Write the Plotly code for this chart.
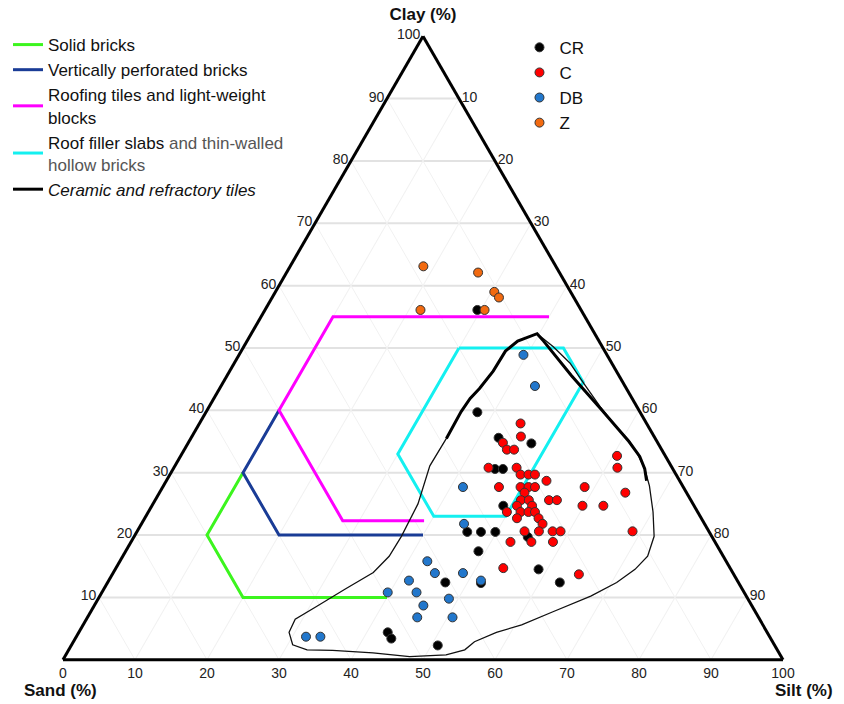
import plotly.graph_objects as go

# ---------------- data (clay %, silt %; sand = 100 - clay - silt) ----------------
cr_clay = [56.1, 39.7, 35.6, 34.7, 30.6, 30.6, 24.7, 20.5, 20.5, 20.5, 19.7, 17.4, 14.5, 12.4, 12.4, 12.3, 4.4, 3.4, 2.3]
cr_silt = [29.5, 37.7, 42.7, 47.7, 44.7, 45.8, 48.8, 45.9, 47.8, 49.8, 54.7, 49.0, 58.8, 62.8, 46.9, 51.9, 42.9, 43.9, 50.9]

c_clay = [37.9, 35.8, 34.8, 33.7, 33.7, 32.7, 30.8, 30.8, 30.8, 29.7, 29.7, 29.7, 28.7, 27.7, 27.7,
          27.7, 27.7, 27.7, 26.8, 26.8, 25.6, 25.6, 25.6, 25.6, 24.7, 24.7, 24.7, 24.7, 23.7, 23.7,
          23.7, 23.7, 22.7, 22.7, 21.8, 20.6, 20.6, 20.6, 20.6, 20.6, 18.9, 18.9, 18.9, 14.7, 13.7]
c_silt = [44.6, 45.7, 43.7, 44.8, 45.8, 60.6, 61.6, 43.7, 47.6, 48.7, 49.8, 50.7, 52.8, 46.7, 49.7,
          50.8, 51.7, 58.6, 64.7, 50.7, 50.8, 51.9, 54.7, 55.8, 50.7, 52.8, 59.8, 62.7, 49.8, 51.7,
          52.8, 53.7, 51.7, 54.7, 55.7, 53.8, 55.8, 57.7, 58.8, 68.8, 52.7, 55.6, 58.6, 53.8, 64.8]

db_clay = [48.9, 43.9, 27.7, 21.8, 15.8, 13.9, 13.9, 12.7, 12.7, 10.8, 10.8, 9.8, 8.7, 6.8, 6.8, 3.7, 3.7]
db_silt = [39.5, 43.6, 41.7, 44.8, 42.7, 44.7, 48.6, 41.7, 51.7, 39.7, 43.7, 48.7, 45.7, 45.8, 50.7, 31.9, 33.9]

z_clay = [63.1, 62.1, 59.0, 58.1, 56.1, 56.1]
z_silt = [18.5, 26.6, 30.4, 31.5, 21.6, 30.5]

# field boundaries
solid_clay = [30, 20, 10, 10]
solid_silt = [10, 10, 20, 40]
perf_clay = [40, 30, 20, 20]
perf_silt = [10, 10, 20, 40]
roof_clay = [55, 55, 40, 22.3, 22.3]
roof_silt = [40, 10, 10, 27.7, 39]
filler_clay = [50, 50, 44.5, 23, 23, 33, 50]
filler_silt = [30, 44.5, 50, 50, 40, 30, 30]

# ceramic & refractory tiles field (thin outline + thick upper part)
cer_clay = [52.3, 50.2, 47.6, 44.2, 40.6, 37.4, 35.2, 32.9, 30.6, 27.9, 23.7, 19.8, 16.6, 14.5, 12.4,
            10.2, 7.7, 5.6, 4.4, 2.9, 1.6, 0.8, 0.5, 1.1, 1.5, 1.6, 2.4, 4.4, 6.5, 8.5, 11.3, 14.0,
            16.6, 19.8, 25.0, 31.1, 35.5, 39.8, 41.9, 43.5, 46.3, 49.5, 51.1, 52.3]
cer_silt = [39.7, 43.0, 46.6, 50.3, 54.3, 58.1, 61.0, 63.4, 65.5, 67.5, 70.1, 72.2, 72.9, 72.2, 70.7,
            68.2, 64.2, 60.9, 58.0, 55.7, 55.0, 52.8, 47.9, 42.5, 36.7, 33.1, 30.7, 29.2, 29.0, 30.9,
            33.5, 36.1, 37.0, 37.1, 36.8, 35.4, 35.5, 35.4, 35.6, 36.1, 36.6, 36.7, 37.6, 39.7]
cer_thick_clay = [35.5, 39.8, 41.9, 43.5, 46.3, 49.5, 51.1, 52.3, 51.1, 45.6, 40.3, 35.0, 32.6, 30.6, 28.7]
cer_thick_silt = [35.5, 35.4, 35.6, 36.1, 36.6, 36.7, 37.6, 39.7, 41.2, 47.8, 54.5, 61.1, 63.8, 65.5, 66.7]

tick_vals = [0, 10, 20, 30, 40, 50, 60, 70, 80, 90, 100]


def sand(clay, silt):
    return [round(100 - a - s, 2) for a, s in zip(clay, silt)]


FONT = "Liberation Sans, Arial, sans-serif"
W, H = 844, 704
ML, MR, MT, MB = 63, 61, 36, 44
fig = go.Figure()


def add_line(clay, silt, color, width, name, show=True):
    fig.add_trace(go.Scatterternary(
        a=clay, b=sand(clay, silt), c=silt, mode="lines",
        line=dict(color=color, width=width), name=name,
        showlegend=show, legend="legend", hoverinfo="skip"))


add_line(solid_clay, solid_silt, "#3cf51e", 3, "Solid bricks")
add_line(perf_clay, perf_silt, "#1a3c96", 3, "Vertically perforated bricks")
add_line(roof_clay, roof_silt, "#ff00ff", 3, "Roofing tiles and light-weight<br>blocks")
add_line(filler_clay, filler_silt, "#14f0f0", 3,
         "Roof filler slabs <span style='color:#555555'>and thin-walled</span><br>"
         "<span style='color:#555555'>hollow bricks</span>")
add_line(cer_clay, cer_silt, "#111111", 1.3, "ceramic outline", show=False)
add_line(cer_thick_clay, cer_thick_silt, "#000000", 3, "<i>Ceramic and refractory tiles</i>")


def add_pts(clay, silt, color, name):
    fig.add_trace(go.Scatterternary(
        a=clay, b=sand(clay, silt), c=silt, mode="markers", name=name, legend="legend2",
        marker=dict(size=9, color=color, line=dict(color="#333333", width=1)),
        hoverinfo="skip"))


add_pts(cr_clay, cr_silt, "#000000", "CR")
add_pts(c_clay, c_silt, "#ff0000", "C")
add_pts(db_clay, db_silt, "#2277cc", "DB")
add_pts(z_clay, z_silt, "#f26a10", "Z")

axis_common = dict(showline=True, linecolor="black", linewidth=3, ticks="",
                   tickfont=dict(size=14, color="#222"), tickmode="array", layer="below traces")


def px_to_paper(px, py):
    return (px - ML) / (W - ML - MR), 1 - (py - MT) / (H - MT - MB)


sx, sy = px_to_paper(60, 690)
tx, ty = px_to_paper(804, 690)

fig.update_layout(
    width=W, height=H,
    paper_bgcolor="white",
    font=dict(family=FONT, color="#111"),
    margin=dict(l=ML, r=MR, t=MT, b=MB, autoexpand=False),
    ternary=dict(
        sum=100,
        bgcolor="white",
        domain=dict(x=[0, 1], y=[0, 1]),
        aaxis=dict(axis_common, title=dict(text="<b>Clay (%)</b>", font=dict(size=17)),
                   tickvals=tick_vals[1:], ticktext=[str(v) for v in tick_vals[1:]],
                   gridcolor="#e2e2e2", gridwidth=1.5),
        baxis=dict(axis_common, title=dict(text=""),
                   tickvals=[100 - v for v in tick_vals], ticktext=[str(v) for v in tick_vals],
                   gridcolor="#f1f1f1", gridwidth=1),
        caxis=dict(axis_common, title=dict(text=""),
                   tickvals=tick_vals[1:-1], ticktext=[str(v) for v in tick_vals[1:-1]],
                   gridcolor="#f1f1f1", gridwidth=1),
    ),
    annotations=[
        dict(text="<b>Sand (%)</b>", x=sx, y=sy, xref="paper", yref="paper", showarrow=False,
             font=dict(size=17, color="#111"), xanchor="center", yanchor="middle"),
        dict(text="<b>Silt (%)</b>", x=tx, y=ty, xref="paper", yref="paper", showarrow=False,
             font=dict(size=17, color="#111"), xanchor="center", yanchor="middle"),
    ],
    legend=dict(xref="container", yref="container", x=0.0095, y=0.9616, xanchor="left", yanchor="top",
                font=dict(size=17, family=FONT, color="#111"), bgcolor="rgba(0,0,0,0)",
                itemwidth=30, traceorder="normal", tracegroupgap=0),
    legend2=dict(xref="container", yref="container", x=0.6155, y=0.9577, xanchor="left", yanchor="top",
                 font=dict(size=17, family=FONT, color="#111"), bgcolor="rgba(0,0,0,0)",
                 itemwidth=30),
)

fig.write_html("out.html", config={"displayModeBar": False},
               post_script="document.body.style.margin='0';")
